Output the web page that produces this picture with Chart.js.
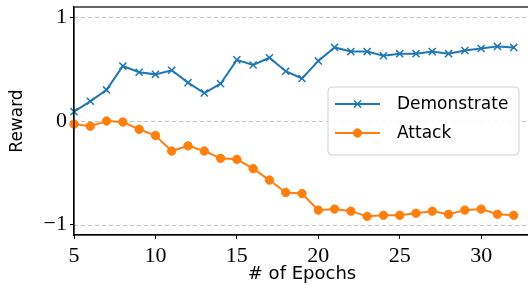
<!DOCTYPE html>
<html>
<head>
<meta charset="utf-8">
<script src="https://cdn.jsdelivr.net/npm/chart.js@4.4.1/dist/chart.umd.min.js"></script>
<style>
  html, body { margin: 0; padding: 0; background: #fff; overflow: hidden; }
  #wrap { width: 528px; height: 292px; overflow: hidden; }
</style>
</head>
<body>
<div id="wrap"><canvas id="chart" width="531" height="292"></canvas></div>
<script>
const epochs = [5, 6, 7, 8, 9, 10, 11, 12, 13, 14, 15, 16, 17, 18, 19, 20, 21, 22, 23, 24, 25, 26, 27, 28, 29, 30, 31, 32];
const demonstrate = [0.09, 0.19, 0.30, 0.53, 0.47, 0.45, 0.49, 0.37, 0.27, 0.36, 0.59, 0.54, 0.61, 0.48, 0.41, 0.58, 0.71, 0.67, 0.67, 0.63, 0.65, 0.65, 0.67, 0.65, 0.68, 0.70, 0.72, 0.71];
const attack = [-0.03, -0.05, 0.00, -0.01, -0.08, -0.14, -0.29, -0.24, -0.29, -0.36, -0.37, -0.46, -0.57, -0.69, -0.70, -0.86, -0.85, -0.87, -0.92, -0.91, -0.91, -0.89, -0.87, -0.90, -0.86, -0.85, -0.90, -0.91];
const xTicks = [5, 10, 15, 20, 25, 30];
const yTicks = [-1, 0, 1];

const BLUE = "#1f77b4";
const ORANGE = "#ff7f0e";
const SERIF = "'Liberation Serif', 'DejaVu Serif', serif";
const SANS = "'DejaVu Sans', sans-serif";

const points = (ys) => epochs.map((x, i) => ({ x, y: ys[i] }));

// dashed horizontal grid at the y ticks + black frame round the plot
const frame = {
  id: "frame",
  beforeDatasetsDraw(chart) {
    const { ctx, chartArea: a, scales: { y } } = chart;
    ctx.save();
    ctx.strokeStyle = "#b0b0b0";
    ctx.lineWidth = 0.8;
    ctx.setLineDash([4, 3]);
    yTicks.forEach((v) => {
      const py = Math.round(y.getPixelForValue(v)) + 0.5;
      ctx.beginPath();
      ctx.moveTo(a.left, py);
      ctx.lineTo(a.right, py);
      ctx.stroke();
    });
    ctx.restore();
  },
  afterDraw(chart) {
    const { ctx, chartArea: a } = chart;
    ctx.save();
    ctx.strokeStyle = "#000";
    ctx.lineWidth = 1.2;
    ctx.strokeRect(a.left, a.top, a.right - a.left, a.bottom - a.top);
    ctx.restore();
  }
};

// legend box inside the plot, matplotlib style
const innerLegend = {
  id: "innerLegend",
  afterDraw(chart) {
    const { ctx } = chart;
    const x0 = 328, y0 = 87, w = 191, h = 68;
    ctx.save();
    ctx.beginPath();
    ctx.roundRect(x0, y0, w, h, 4);
    ctx.fillStyle = "rgba(255,255,255,0.85)";
    ctx.fill();
    ctx.strokeStyle = "#d0d0d0";
    ctx.lineWidth = 1;
    ctx.stroke();
    chart.data.datasets.forEach((ds, i) => {
      const yy = y0 + 17 + i * 29;
      ctx.strokeStyle = ds.borderColor;
      ctx.lineWidth = ds.borderWidth;
      ctx.beginPath();
      ctx.moveTo(x0 + 7, yy);
      ctx.lineTo(x0 + 52, yy);
      ctx.stroke();
      ctx.fillStyle = ds.pointBackgroundColor;
      ctx.strokeStyle = ds.pointBorderColor;
      ctx.lineWidth = ds.pointBorderWidth;
      Chart.helpers.drawPoint(ctx, { pointStyle: ds.pointStyle, radius: ds.pointRadius, borderWidth: ds.pointBorderWidth, rotation: 0 }, x0 + 29.5, yy);
      ctx.fillStyle = "#000";
      ctx.font = `17px ${SANS}`;
      ctx.textBaseline = "middle";
      ctx.fillText(ds.label, x0 + 69, yy + 1);
    });
    ctx.restore();
  }
};

new Chart(document.getElementById("chart"), {
  type: "line",
  data: {
    datasets: [
      {
        label: "Demonstrate", data: points(demonstrate),
        borderColor: BLUE, borderWidth: 2,
        pointStyle: "crossRot", pointRadius: 5, pointBorderWidth: 1.5,
        pointBorderColor: BLUE, pointBackgroundColor: BLUE,
        tension: 0, clip: false
      },
      {
        label: "Attack", data: points(attack),
        borderColor: ORANGE, borderWidth: 2,
        pointStyle: "circle", pointRadius: 4.2, pointBorderWidth: 1,
        pointBorderColor: ORANGE, pointBackgroundColor: ORANGE,
        tension: 0, clip: false
      }
    ]
  },
  options: {
    responsive: false,
    devicePixelRatio: 1,
    animation: false,
    layout: { autoPadding: false, padding: { top: 7, right: 1, left: 0, bottom: 0 } },
    plugins: { legend: { display: false }, tooltip: { enabled: false } },
    scales: {
      x: {
        type: "linear", min: 5, max: 33,
        afterBuildTicks: (s) => { s.ticks = xTicks.map((value) => ({ value })); },
        afterFit: (s) => { s.height = 57; s.paddingLeft = 0; s.paddingRight = 0; },
        ticks: { color: "#000", font: { family: SERIF, size: 22 }, padding: 4, maxRotation: 0 },
        grid: { drawOnChartArea: false, color: "#000", tickLength: 4, lineWidth: 1 },
        border: { color: "#000", width: 1.2 },
        title: { display: true, text: "# of Epochs", color: "#000", font: { family: SANS, size: 18 }, padding: { top: 0, bottom: 7 } }
      },
      y: {
        min: -1.1, max: 1.1,
        afterBuildTicks: (s) => { s.ticks = yTicks.map((value) => ({ value })); },
        afterFit: (s) => { s.width = 74; s.paddingTop = 0; s.paddingBottom = 0; },
        ticks: { color: "#000", font: { family: SERIF, size: 22 }, padding: 3, callback: (v) => String(v).replace("-", "\u2212") },
        grid: { drawOnChartArea: false, color: "#000", tickLength: 4, lineWidth: 1 },
        border: { color: "#000", width: 1.2 },
        title: { display: true, text: "Reward", color: "#000", font: { family: SANS, size: 17 }, padding: { top: 7, bottom: 0 } }
      }
    }
  },
  plugins: [frame, innerLegend]
});
</script>
</body>
</html>
